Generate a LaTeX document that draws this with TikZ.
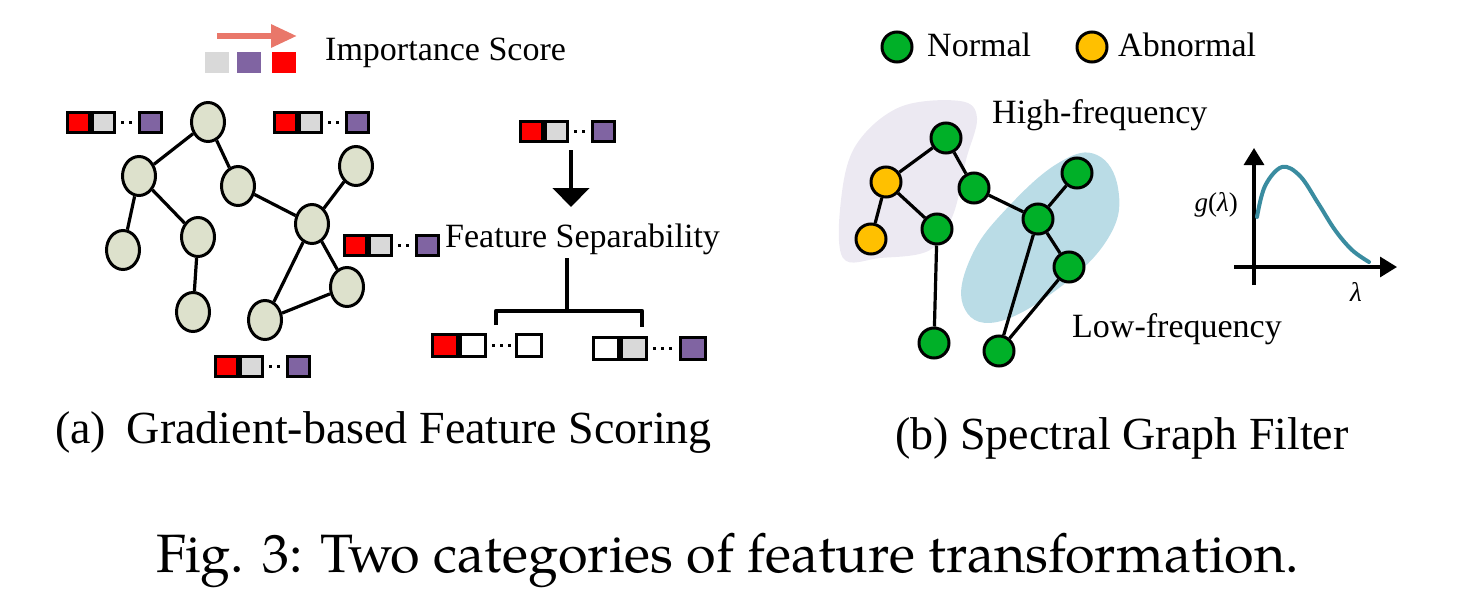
\documentclass[tikz,border=0pt]{standalone}
\usepackage{fontspec}
\setmainfont{Liberation Serif}
\newfontfamily\palfont{TeX Gyre Pagella}
\usetikzlibrary{shapes.geometric,arrows.meta}
\definecolor{fgray}{RGB}{217,217,217}
\definecolor{fpurple}{RGB}{128,100,162}
\definecolor{fred}{RGB}{255,0,0}
\definecolor{salmonarrow}{RGB}{233,119,106}
\definecolor{anodefill}{RGB}{221,225,204}
\definecolor{ngreen}{RGB}{0,176,40}
\definecolor{nyellow}{RGB}{255,192,0}
\definecolor{lavblob}{RGB}{236,233,242}
\definecolor{blueblob}{RGB}{186,220,230}
\definecolor{curveteal}{RGB}{58,140,160}
\newcommand\fvec[7]{%
  \node[fbox,fill=#4] (#1a) at (#2,#3) {};
  \node[fbox,fill=#5] (#1b) at (#1a.east) {};
  \node[fbox,fill=#6] (#1c) at ([xshift=#7pt]#1b.east) {};
  \draw[fdots] (#1b.east) -- (#1c.west);
}
\begin{document}
\begin{tikzpicture}[x=1pt,y=-1pt,
  fbox/.style={draw,line width=3pt,minimum width=22pt,minimum height=20pt,inner sep=0pt,anchor=west},
  fdots/.style={line width=3pt,dash pattern=on 3pt off 5pt,shorten <=5pt,shorten >=4pt},
  lsq/.style={minimum width=24pt,minimum height=21pt,inner sep=0pt},
  anode/.style={ellipse,draw,line width=3pt,fill=anodefill,minimum width=33pt,minimum height=39pt,inner sep=0pt},
  gnode/.style={circle,draw,line width=3pt,fill=ngreen,minimum size=30pt,inner sep=0pt},
  ynode/.style={circle,draw,line width=3pt,fill=nyellow,minimum size=30pt,inner sep=0pt},
  gedge/.style={line width=3.2pt},
  lab/.style={inner sep=0pt,font=\fontsize{34}{40}\selectfont},
  captxt/.style={inner sep=0pt,font=\fontsize{46}{52}\selectfont},
  plotaxis/.style={line width=3.2pt,-{Triangle[length=17pt,width=20pt]}},
  thickfour/.style={line width=4.5pt}]
\useasboundingbox (0,0) rectangle (1467,613);

% ---------- (a) legend
\coordinate (la1) at (217,36);
\coordinate (la2) at (297,36);
\draw[salmonarrow,line width=6pt,-{Triangle[length=26pt,width=22pt]}] (la1) -- (la2);
\node[lsq,fill=fgray] (lg) at (217,62.5) {};
\node[lsq,fill=fpurple] (lp) at (249,62.5) {};
\node[lsq,fill=fred] (lr) at (284,62.5) {};
\node[lab,anchor=base west] (imp) at (325,60) {Importance Score};

% ---------- (a) graph
\node[anode] (a1) at (208,122) {};
\node[anode] (a2) at (139,176) {};
\node[anode] (a3) at (238,186) {};
\node[anode] (a4) at (356,166) {};
\node[anode] (a5) at (123,250) {};
\node[anode] (a6) at (198,237) {};
\node[anode] (a7) at (312,224) {};
\node[anode] (a8) at (347,287) {};
\node[anode] (a9) at (193,312) {};
\node[anode] (a10) at (265,320) {};
\draw[gedge] (a1) -- (a2);
\draw[gedge] (a1) -- (a3);
\draw[gedge] (a2) -- (a5);
\draw[gedge] (a2) -- (a6);
\draw[gedge] (a6) -- (a9);
\draw[gedge] (a3) -- (a7);
\draw[gedge] (a4) -- (a7);
\draw[gedge] (a7) -- (a10);
\draw[gedge] (a7) -- (a8);
\draw[gedge] (a8) -- (a10);

% feature vectors
\fvec{va}{66}{122}{fred}{fgray}{fpurple}{22}
\fvec{vb}{273}{122}{fred}{fgray}{fpurple}{22}
\fvec{vc}{343}{245}{fred}{fgray}{fpurple}{22}
\fvec{vd}{214}{366}{fred}{fgray}{fpurple}{22}
\fvec{ve}{519}{131}{fred}{fgray}{fpurple}{22}

% separability
\coordinate (sa1) at (571,150);
\coordinate (sa2) at (571,207);
\draw[line width=4.5pt,-{Triangle[length=19pt,width=36pt]}] (sa1) -- (sa2);
\node[lab,anchor=base west] (fs) at (445,247) {Feature Separability};
\coordinate (br0) at (567,258);
\coordinate (br1) at (567,311);
\coordinate (brl) at (496,311);
\coordinate (brr) at (642,311);
\coordinate (brlb) at (496,325);
\coordinate (brrb) at (642,327);
\draw[thickfour] (br0) -- (br1);
\draw[thickfour,line join=round] (brlb) -- (brl) -- (brr) -- (brrb);
\begin{scope}[fbox/.append style={minimum width=25pt,minimum height=22pt}]
\fvec{vf}{431}{345}{fred}{white}{white}{28}
\fvec{vg}{592}{348}{white}{fgray}{fpurple}{31}
\end{scope}

\node[captxt,anchor=base west] (capa) at (55,443) {(a)\hspace{0.45em}Gradient-based Feature Scoring};

% ---------- (b) legend
\node[gnode] (lgn) at (897,47) {};
\node[lab,anchor=base west] (lnorm) at (927,56) {Normal};
\node[ynode] (lyn) at (1092,47) {};
\node[lab,anchor=base west] (labn) at (1118,56) {Abnormal};

% blobs
\fill[lavblob] plot[smooth cycle,tension=0.6] coordinates {(960,101) (977,118) (966,160) (953,215) (930,250) (880,258) (843,258) (841,200) (856,145) (900,107)};
\fill[blueblob] plot[smooth cycle,tension=0.7] coordinates {(1097,155) (1118,188) (1110,235) (1063,285) (997,322) (963,305) (972,255) (1010,205) (1060,162)};

\node[lab,anchor=base west] (hf) at (992,123) {High-frequency};
\node[lab,anchor=base west] (lf) at (1072,337) {Low-frequency};

% (b) graph
\node[gnode] (b1) at (946,138) {};
\node[ynode] (b2) at (886,182) {};
\node[gnode] (b3) at (974,188) {};
\node[ynode] (b4) at (871,239) {};
\node[gnode] (b5) at (937,229) {};
\node[gnode] (b6) at (1077,173) {};
\node[gnode] (b7) at (1038,219) {};
\node[gnode] (b8) at (1069,267) {};
\node[gnode] (b9) at (934,343) {};
\node[gnode] (b10) at (999,351) {};
\draw[gedge] (b1) -- (b2);
\draw[gedge] (b1) -- (b3);
\draw[gedge] (b2) -- (b4);
\draw[gedge] (b2) -- (b5);
\draw[gedge] (b5) -- (b9);
\draw[gedge] (b3) -- (b7);
\draw[gedge] (b6) -- (b7);
\draw[gedge] (b7) -- (b8);
\draw[gedge] (b7) -- (b10);
\draw[gedge] (b8) -- (b10);

% filter plot
\coordinate (ya) at (1254,285);
\coordinate (yb) at (1254,148);
\coordinate (xa) at (1234,267);
\coordinate (xb) at (1397,267);
\draw[plotaxis] (ya) -- (yb);
\draw[plotaxis] (xa) -- (xb);
\draw[curveteal,line width=4pt,line cap=round] plot[smooth,tension=0.6] coordinates {(1257,217) (1265,186) (1282,167) (1300,176) (1318,203) (1335,230) (1352,250) (1369,262)};
\node[inner sep=0pt,anchor=east,font=\fontsize{27}{30}\selectfont] (gl) at (1238,205) {\textit{g}(\textit{λ})};
\node[inner sep=0pt,font=\fontsize{27}{30}\selectfont] (lam) at (1356,292) {\textit{λ}};

\node[captxt,anchor=base west] (capb) at (895,449) {(b) Spectral Graph Filter};

% main caption
\node[inner sep=0pt,anchor=base west,font=\palfont\fontsize{54}{60}\selectfont] (mcap) at (156,572) {Fig. 3: Two categories of feature transformation.};
\end{tikzpicture}
\end{document}
